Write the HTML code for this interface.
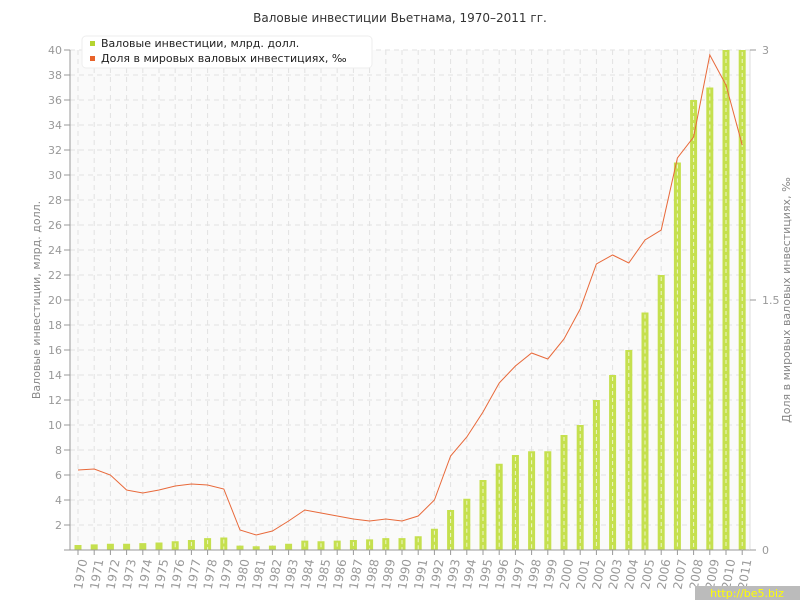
<!DOCTYPE html><html><head><meta charset="utf-8"><style>body{margin:0;background:#fff}svg{font-family:"DejaVu Sans","Liberation Sans",sans-serif}</style></head><body>
<svg width="800" height="600" xmlns="http://www.w3.org/2000/svg">
<text x="400" y="22" text-anchor="middle" font-size="12" fill="#333">Валовые инвестиции Вьетнама, 1970–2011 гг.</text>
<rect x="70" y="50" width="680" height="500" fill="#fafafa"/>
<g id="grid" stroke="#e2e2e2" stroke-dasharray="5,4"></g>
<g id="bars"></g>
<polyline id="ln" fill="none" stroke="#e8693a" stroke-width="1"/>
<line x1="70" y1="50" x2="70" y2="550" stroke="#999"/><line x1="70" y1="550" x2="750" y2="550" stroke="#999"/>
<line x1="750" y1="50" x2="750" y2="550" stroke="#ddd"/>
<g id="ax" font-size="11" fill="#999"></g>
<text x="750" y="54" dx="12" font-size="11" fill="#999">3</text>
<text x="762" y="304" font-size="11" fill="#999">1.5</text>
<text x="762" y="554" font-size="11" fill="#999">0</text>
<line x1="750" y1="50" x2="756" y2="50" stroke="#999"/><line x1="750" y1="300" x2="756" y2="300" stroke="#999"/><line x1="750" y1="550" x2="756" y2="550" stroke="#999"/>
<text transform="translate(40,300) rotate(-90)" text-anchor="middle" font-size="11" fill="#888">Валовые инвестиции, млрд. долл.</text>
<text transform="translate(790,300) rotate(-90)" text-anchor="middle" font-size="11" fill="#888">Доля в мировых валовых инвестициях, ‰</text>
<rect x="82" y="36" width="290" height="32" rx="4" fill="#fff" stroke="#eee"/>
<rect x="90" y="41" width="5" height="5" fill="#b5d430"/><text x="101" y="47" font-size="11" fill="#222">Валовые инвестиции, млрд. долл.</text>
<rect x="90" y="56" width="5" height="5" fill="#e8632a"/><text x="101" y="62" font-size="11" fill="#222">Доля в мировых валовых инвестициях, ‰</text>
<rect x="695" y="586" width="105" height="14" fill="#bbb"/><text x="747" y="597" text-anchor="middle" font-size="11" fill="#ff0">http://be5.biz</text>
</svg>
<script>
const ns="http://www.w3.org/2000/svg";
const v=[0.4,0.45,0.5,0.5,0.55,0.6,0.7,0.8,0.95,1.0,0.35,0.3,0.35,0.5,0.75,0.7,0.75,0.8,0.85,0.95,0.95,1.1,1.7,3.2,4.1,5.6,6.9,7.6,7.9,7.9,9.2,10,12,14,16,19,22,31,36,37,40,40];
const ly=[470,469,475,490,493,490,486,484,485,489,530,535,531,521,510,513,516,519,521,519,521,516,500,456,437,412,383,366,353,359,339,309,264,255,263,240,230,158,137,55,85,145];
const g=document.getElementById('grid'),b=document.getElementById('bars'),a=document.getElementById('ax');
function el(p,t,at,tx){const e=document.createElementNS(ns,t);for(const k in at)e.setAttribute(k,at[k]);if(tx)e.textContent=tx;p.appendChild(e);return e}
for(let k=2;k<=40;k+=2){const y=550-k*12.5;el(g,'line',{x1:70,x2:750,y1:y,y2:y});}
for(let k=0;k<=40;k+=2){const y=550-k*12.5;el(a,'text',{x:62,y:y+4,'text-anchor':'end'},k);el(a,'line',{x1:64,x2:70,y1:y,y2:y,stroke:'#999'});}
let pts=[];
for(let i=0;i<42;i++){const x=78+i*16.2;el(g,'line',{x1:x,x2:x,y1:50,y2:550});
const h=v[i]*12.5;el(b,'rect',{x:x-3.5,y:550-h,width:7,height:h,fill:'#c5e04e'});
if(h>8)el(b,'line',{x1:x,x2:x,y1:552-h,y2:550,stroke:'#fff','stroke-dasharray':'4,3','stroke-opacity':0.7});
el(a,'line',{x1:x,x2:x,y1:550,y2:555,stroke:'#999'});
el(a,'text',{transform:`translate(${x+4},590) rotate(-80)`,'font-size':12},1970+i);
pts.push(x+','+ly[i]);}
document.getElementById('ln').setAttribute('points',pts.join(' '));
</script>
</body></html>
